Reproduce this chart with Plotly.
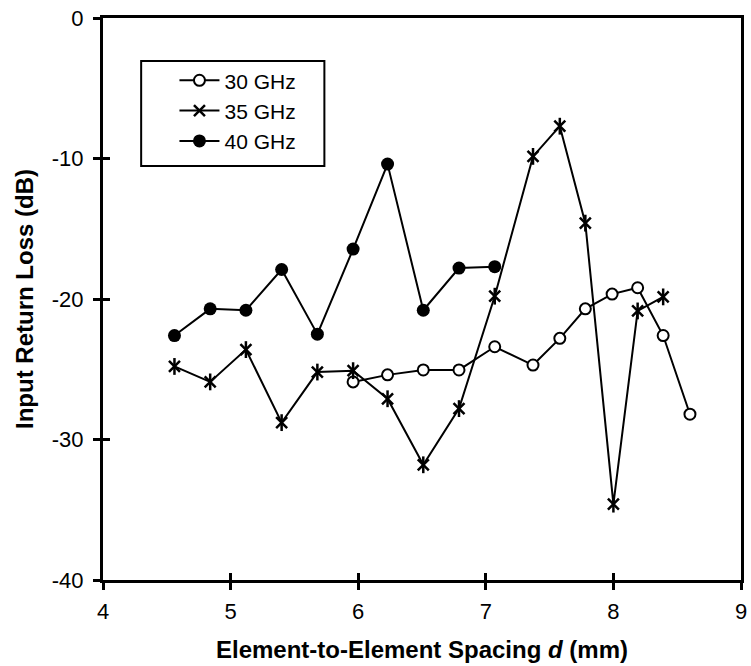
import plotly.graph_objects as go

# ---- data ----
x30 = [5.96, 6.23, 6.51, 6.79, 7.07, 7.37, 7.58, 7.78, 7.99, 8.19, 8.39, 8.60]
y30 = [-25.9, -25.4, -25.05, -25.05, -23.4, -24.7, -22.8, -20.7, -19.65, -19.2, -22.6, -28.2]

x35 = [4.56, 4.84, 5.12, 5.40, 5.68, 5.96, 6.23, 6.51, 6.79, 7.07, 7.37, 7.58, 7.78, 8.00, 8.19, 8.39]
y35 = [-24.8, -25.9, -23.6, -28.8, -25.2, -25.1, -27.1, -31.8, -27.8, -19.8, -9.85, -7.7, -14.6, -34.6, -20.85, -19.85]

x40 = [4.56, 4.84, 5.12, 5.40, 5.68, 5.96, 6.23, 6.51, 6.79, 7.07]
y40 = [-22.6, -20.7, -20.8, -17.9, -22.5, -16.45, -10.4, -20.8, -17.8, -17.7]

names = ["30 GHz", "35 GHz", "40 GHz"]

x_ticks = [4, 5, 6, 7, 8, 9]
x_ticktext = ["4", "5", "6", "7", "8", "9"]
y_ticks = [0, -10, -20, -30, -40]
y_ticktext = ["0", "-10", "-20", "-30", "-40"]

FONT = "Arial, Liberation Sans, sans-serif"

fig = go.Figure()

fig.add_trace(go.Scatter(
    x=x30, y=y30, name=names[0], mode="lines+markers",
    line=dict(color="black", width=2),
    marker=dict(symbol="circle", size=11, color="white",
                line=dict(color="black", width=2)),
))
fig.add_trace(go.Scatter(
    x=x35, y=y35, name=names[1], mode="lines+markers",
    line=dict(color="black", width=2),
    marker=dict(symbol="x-thin-open", size=11, color="black",
                line=dict(color="black", width=2.5)),
))
# vertical stroke of the asterisk marker
fig.add_trace(go.Scatter(
    x=x35, y=y35, mode="markers", showlegend=False, hoverinfo="skip",
    marker=dict(symbol="line-ns-open", size=12, color="black",
                line=dict(color="black", width=2.5)),
))
fig.add_trace(go.Scatter(
    x=x40, y=y40, name=names[2], mode="lines+markers",
    line=dict(color="black", width=2),
    marker=dict(symbol="circle", size=13, color="black"),
))
# empty trace to activate the overlay axes (inner half of crossing ticks)
fig.add_trace(go.Scatter(x=[], y=[], xaxis="x2", yaxis="y2",
                         showlegend=False, hoverinfo="skip"))

fig.update_layout(
    width=751, height=666,
    margin=dict(l=103, r=4, t=18, b=86),
    paper_bgcolor="white", plot_bgcolor="white",
    font=dict(family=FONT, size=22, color="black"),
    showlegend=True,
    legend=dict(
        x=0.112, y=0.925, xanchor="left", yanchor="top",
        bgcolor="rgba(0,0,0,0)", borderwidth=0,
        font=dict(family=FONT, size=21, color="black"),
        itemwidth=40, tracegroupgap=0,
    ),
    shapes=[dict(
        type="rect", xref="paper", yref="paper",
        x0=0.0598, x1=0.347, y0=0.7367, y1=0.9235,
        line=dict(color="black", width=2), fillcolor="rgba(0,0,0,0)",
        layer="above",
    )],
    xaxis=dict(
        range=[4, 9], tickvals=x_ticks, ticktext=x_ticktext,
        ticks="outside", ticklen=7, tickwidth=2.5, tickcolor="black",
        ticklabelstandoff=3,
        showline=True, linecolor="black", linewidth=3, mirror=True,
        showgrid=False, zeroline=False,
        tickfont=dict(family=FONT, size=22, color="black"),
        title=dict(text="<b>Element-to-Element Spacing <i>d</i> (mm)</b>",
                   font=dict(family=FONT, size=24, color="black"),
                   standoff=18),
    ),
    yaxis=dict(
        range=[-40, 0], tickvals=y_ticks, ticktext=y_ticktext,
        ticks="outside", ticklen=7, tickwidth=2.5, tickcolor="black",
        ticklabelstandoff=5,
        showline=True, linecolor="black", linewidth=3, mirror=True,
        showgrid=False, zeroline=False,
        tickfont=dict(family=FONT, size=22, color="black"),
        title=dict(text="<b>Input Return Loss (dB)</b>",
                   font=dict(family=FONT, size=24, color="black"),
                   standoff=12),
    ),
    xaxis2=dict(
        overlaying="x", anchor="y", side="bottom", range=[4, 9],
        tickvals=x_ticks, ticks="inside", ticklen=7, tickwidth=2.5,
        tickcolor="black", showticklabels=False, showline=False,
        showgrid=False, zeroline=False,
    ),
    yaxis2=dict(
        overlaying="y", anchor="x", side="left", range=[-40, 0],
        tickvals=y_ticks, ticks="inside", ticklen=7, tickwidth=2.5,
        tickcolor="black", showticklabels=False, showline=False,
        showgrid=False, zeroline=False,
    ),
)

fig.write_html("out.html")
